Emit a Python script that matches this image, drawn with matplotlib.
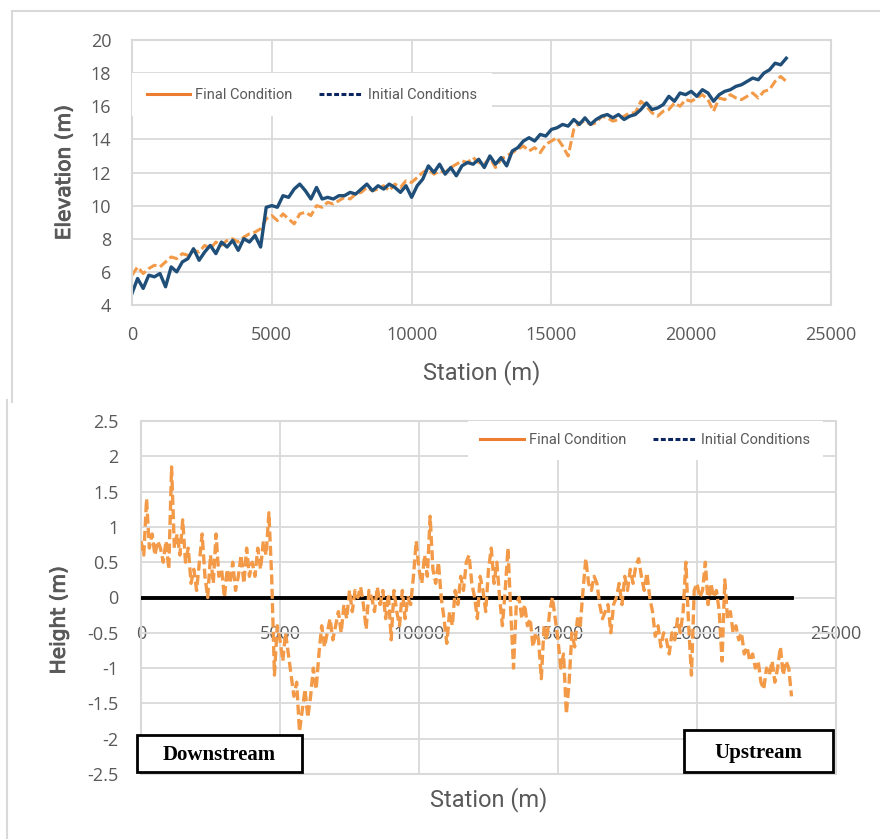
import numpy as np
import matplotlib
matplotlib.use("Agg")
import matplotlib.pyplot as plt
import matplotlib.patheffects as pe
from matplotlib.lines import Line2D
from matplotlib.patches import Rectangle
from matplotlib.ticker import FuncFormatter

plt.rcParams["font.family"] = ["Open Sans", "DejaVu Sans"]

# ---- data ----
station_top = np.arange(0, 23401, 200)      # m
station_bot = np.arange(0, 23401, 100)      # m

initial_elev = [
    4.7, 5.6, 5.0, 5.8, 5.7, 5.9, 5.1, 6.3, 6.0, 6.6,
    6.8, 7.4, 6.7, 7.2, 7.6, 7.1, 7.8, 7.5, 7.9, 7.3,
    8.0, 7.8, 8.2, 7.5, 9.9, 10.0, 9.9, 10.6, 10.5, 11.0,
    11.3, 10.9, 10.4, 11.1, 10.4, 10.5, 10.4, 10.6, 10.6, 10.8,
    10.7, 11.0, 11.3, 10.9, 11.2, 11.0, 11.3, 11.1, 10.8, 11.2,
    10.5, 11.2, 11.6, 12.4, 12.0, 12.5, 11.9, 12.3, 11.8, 12.4,
    12.6, 12.5, 12.8, 12.3, 13.0, 12.5, 12.9, 12.4, 13.3, 13.5,
    13.9, 14.1, 13.9, 14.3, 14.2, 14.6, 14.7, 14.9, 14.8, 15.2,
    14.9, 15.3, 14.9, 15.2, 15.4, 15.5, 15.3, 15.5, 15.2, 15.4,
    15.5, 15.8, 16.2, 15.8, 15.9, 16.1, 16.6, 16.3, 16.8, 16.7,
    16.9, 16.6, 17.0, 16.8, 16.3, 16.7, 16.9, 17.0, 17.2, 17.3,
    17.5, 17.7, 17.6, 18.0, 18.2, 18.6, 18.5, 18.9,
]

final_elev = [
    5.8, 6.3, 5.9, 6.2, 6.4, 6.3, 6.6, 6.9, 6.8, 7.1,
    7.0, 7.3, 7.2, 7.6, 7.4, 7.8, 7.6, 7.9, 8.0, 7.8,
    8.1, 8.3, 8.4, 8.6, 9.2, 9.4, 9.1, 9.5, 9.2, 8.9,
    9.5, 9.6, 9.4, 10.0, 9.9, 10.2, 10.1, 10.3, 10.5, 10.4,
    10.7, 10.8, 11.1, 10.9, 11.0, 11.2, 10.9, 11.3, 11.1, 11.5,
    11.4, 11.7, 12.0, 12.2, 11.9, 12.1, 12.0, 12.3, 12.5, 12.7,
    12.6, 12.9, 12.6, 12.5, 12.9, 12.3, 12.8, 13.0, 13.2, 13.4,
    13.6, 13.3, 13.5, 13.2, 13.7, 13.9, 14.1, 13.6, 13.0, 14.6,
    15.0, 15.1, 14.9, 15.0, 15.4, 15.3, 15.1, 15.2, 15.4, 15.6,
    15.6, 16.3, 16.0, 15.6, 15.4, 15.7, 15.8, 16.2, 16.0, 16.4,
    16.3, 16.5, 16.7, 16.4, 15.7, 16.5, 16.4, 16.7, 16.5, 16.4,
    16.6, 16.8, 16.5, 16.9, 17.0, 17.5, 17.8, 17.5,
]

height_change = [
    0.8, 0.6, 1.4, 0.7, 0.9, 0.6, 0.8, 0.7, 0.5, 0.8,
    0.4, 1.85, 0.7, 0.9, 0.6, 1.1, 0.5, 0.7, 0.2, 0.4,
    0.1, 0.5, 0.9, 0.3, 0.0, 0.6, 0.2, 0.9, 0.3, 0.4,
    0.0, 0.4, 0.2, 0.5, 0.1, 0.3, 0.6, 0.2, 0.7, 0.3,
    0.5, 0.3, 0.7, 0.4, 0.8, 0.6, 1.2, 0.3, -1.1, -0.4,
    -0.6, -0.9, -0.5, -0.8, -1.1, -1.4, -1.2, -1.9, -1.6, -1.3,
    -1.7, -1.4, -1.0, -1.3, -0.8, -0.4, -0.7, -0.5, -0.3, -0.6,
    -0.4, -0.2, -0.5, -0.1, -0.3, 0.1, -0.2, 0.1, 0.0, 0.15,
    -0.1, -0.45, 0.1, 0.0, -0.2, 0.15, -0.1, 0.1, -0.3, 0.05,
    -0.6, 0.1, -0.2, -0.4, 0.1, -0.3, 0.0, -0.1, 0.3, 0.8,
    0.4, 0.2, 0.6, 0.3, 1.15, 0.4, 0.2, 0.5, 0.0, -0.3,
    -0.65, -0.2, -0.4, 0.1, -0.1, 0.3, 0.1, 0.5, 0.6, 0.2,
    0.0, -0.3, 0.3, 0.1, -0.2, 0.4, 0.7, 0.2, 0.5, 0.0,
    -0.4, 0.1, 0.7, -0.2, -1.0, -0.1, 0.0, -0.3, -0.1, -0.4,
    -0.3, -0.7, -0.5, -0.6, -1.15, -0.4, -0.6, -0.2, 0.0, -0.3,
    -0.6, -1.0, -0.8, -1.65, -1.2, -0.5, -0.7, -0.3, -0.4, 0.1,
    0.55, 0.2, 0.1, 0.3, 0.2, -0.1, -0.3, -0.2, -0.1, -0.5,
    -0.1, 0.0, 0.2, -0.1, 0.3, 0.1, 0.4, 0.2, 0.45, 0.55,
    0.3, 0.1, 0.35, 0.0, -0.2, -0.55, -0.4, -0.7, -0.5, -0.6,
    -0.8, -0.5, -0.6, -0.3, -0.5, -0.2, 0.5, -0.4, -1.1, 0.1,
    0.2, 0.0, 0.1, 0.5, -0.1, 0.2, 0.0, 0.1, -0.2, -0.9,
    0.25, -0.3, -0.2, -0.5, -0.4, -0.6, -0.5, -0.8, -0.7, -0.9,
    -0.8, -1.0, -0.9, -1.2, -1.3, -1.0, -1.1, -0.9, -1.2, -1.0,
    -0.7, -1.1, -0.9, -1.0, -1.4,
]

initial_line_x = [0, 23400]
initial_line_y = [0, 0]

series_labels = ["Final Condition", "Initial Conditions"]

# ---- style ----
ORANGE = "#F39A48"
ORANGE_LEG = "#ED7D31"
NAVY = "#1F4E79"
NAVY_LEG = "#0B2560"
GRID = "#D9D9D9"
TXT = "#595959"
tick_font = ["Open Sans", "DejaVu Sans"]
narrow_font = ["Roboto", "DejaVu Sans"]
semibold = [pe.withStroke(linewidth=0.7, foreground=TXT)]

fig = plt.figure(figsize=(8.8, 8.39), dpi=100)

# panel outlines
fig.add_artist(Line2D([12 / 880, 1.0], [1 - 11 / 839] * 2, color=GRID, lw=1.5))
fig.add_artist(Line2D([12 / 880] * 2, [1 - 11 / 839, 1 - 402 / 839], color=GRID, lw=1.5))
fig.add_artist(Line2D([7 / 880] * 2, [1 - 400 / 839, 0.0], color=GRID, lw=1.5))

legend_handles = [
    Line2D([], [], color=ORANGE_LEG, lw=2.2),
    Line2D([], [], color=NAVY_LEG, lw=2.2, linestyle=(0, (1.6, 0.8))),
]
legend_style = dict(ncol=2, frameon=True, fancybox=False, edgecolor="none",
                    facecolor="white", framealpha=1,
                    prop={"family": narrow_font, "size": 10.5}, labelcolor=TXT,
                    handlelength=3.0, handletextpad=0.35, columnspacing=1.8,
                    borderaxespad=0)


def style_axes(ax, pad):
    ax.grid(True, color=GRID, lw=1.3)
    ax.set_axisbelow(True)
    ax.tick_params(length=0, pad=pad, labelcolor=TXT, labelsize=13)
    for lab in ax.get_xticklabels() + ax.get_yticklabels():
        lab.set_family(tick_font)


# ---- top: elevation ----
ax1 = fig.add_axes([132 / 880, 1 - 305 / 839, 699 / 880, 265 / 839])
ax1.plot(station_top, final_elev, color=ORANGE, lw=2.2, linestyle=(0, (3, 1.2)))
ax1.plot(station_top, initial_elev, color=NAVY, lw=2.4)
ax1.set_xlim(0, 25000)
ax1.set_ylim(4, 20)
ax1.set_xticks(range(0, 25001, 5000))
ax1.set_yticks(range(4, 21, 2))
for s in ax1.spines.values():
    s.set_color(GRID)
    s.set_linewidth(1.5)
style_axes(ax1, 15)
ax1.set_xlabel("Station (m)", family=narrow_font, fontsize=17, color=TXT, labelpad=12)
ax1.set_ylabel("Elevation (m)", family="DejaVu Sans", fontsize=14.5, color=TXT,
               path_effects=semibold)
ax1.yaxis.set_label_coords(-0.083, 0.5)
ax1.legend(legend_handles, series_labels, loc="upper left",
           bbox_to_anchor=(0.0, 0.875), borderpad=1.0, **legend_style)

# ---- bottom: height change ----
ax2 = fig.add_axes([141 / 880, 1 - 774 / 839, 695 / 880, 353 / 839])
ax2.plot(initial_line_x, initial_line_y, color="black", lw=2.8, zorder=2)
ax2.plot(station_bot, height_change, color=ORANGE, lw=2.4,
         linestyle=(0, (3, 1.3)), zorder=3)
ax2.set_xlim(0, 25000)
ax2.set_ylim(-2.5, 2.5)
ax2.set_xticks(range(0, 25001, 5000))
ax2.set_yticks(np.arange(-2.5, 2.51, 0.5))
ax2.yaxis.set_major_formatter(FuncFormatter(lambda v, p: f"{v:g}"))
ax2.spines["bottom"].set_position(("data", 0))
for s in ax2.spines.values():
    s.set_color("none")
ax2.add_patch(Rectangle((0, 0), 1, 1, transform=ax2.transAxes, fill=False,
                        ec=GRID, lw=1.5, clip_on=False, zorder=1))
style_axes(ax2, 16)
ax2.tick_params(axis="x", pad=20)
ax2.set_xlabel("Station (m)", family=narrow_font, fontsize=17, color=TXT)
ax2.xaxis.set_label_coords(0.5, -0.037)
ax2.set_ylabel("Height (m)", family="DejaVu Sans", fontsize=14.5, color=TXT,
               path_effects=semibold)
ax2.yaxis.set_label_coords(-0.104, 0.436)
ax2.legend(legend_handles, series_labels, loc="upper right",
           bbox_to_anchor=(0.981, 1.0), borderpad=0.85, **legend_style)

# labelled boxes
for (x0, y0, w, h), label in [((-0.006, 0.006, 0.237, 0.105), "Downstream"),
                              ((0.781, 0.006, 0.214, 0.119), "Upstream")]:
    ax2.add_patch(Rectangle((x0, y0), w, h, transform=ax2.transAxes, fc="white",
                            ec="black", lw=2, clip_on=False, zorder=5))
    ax2.text(x0 + w / 2, y0 + h / 2 - 0.005, label, transform=ax2.transAxes,
             ha="center", va="center", family=["Liberation Serif", "DejaVu Serif"],
             fontweight="bold", fontsize=15, zorder=6)

fig.savefig("out.png", dpi=100)
